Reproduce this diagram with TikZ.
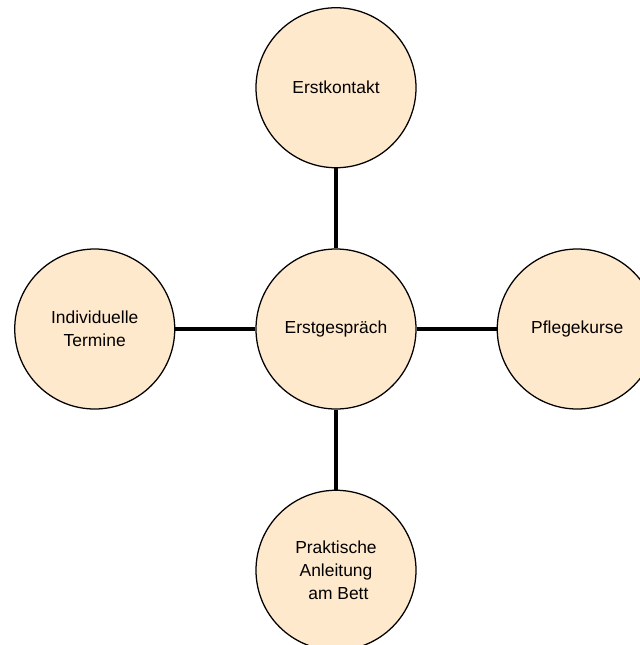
\documentclass[tikz,border=0pt]{standalone}
\usepackage{fontspec}
\setmainfont{Liberation Sans}
\usetikzlibrary{positioning}

\definecolor{peach}{RGB}{255,233,204}

\begin{document}
\begin{tikzpicture}[
    node distance=2cm,
    station/.style={draw, circle, line width=0.9pt, fill=peach,
      minimum size=4cm, inner sep=0pt, align=center,
      font=\fontsize{12.4}{16.3}\selectfont},
    link/.style={line width=3.3pt}
  ]

            \useasboundingbox (0,0) rectangle (16,-16.125);

            \node[station] (gespraech) at (8.4,-8.225) {Erstgespräch};
            \node[station, above=of gespraech] (kontakt) {Erstkontakt};
            \node[station, below=of gespraech] (anleitung) {Praktische\\Anleitung\\~am Bett};
            \node[station, left=of gespraech] (termine) {Individuelle\\Termine};
            \node[station, right=of gespraech] (kurse) {Pflegekurse};

            \foreach \t in {kontakt, anleitung, termine, kurse}
            {
              \draw[link] (gespraech) -- (\t);
            }
            \end{tikzpicture}
\end{document}
